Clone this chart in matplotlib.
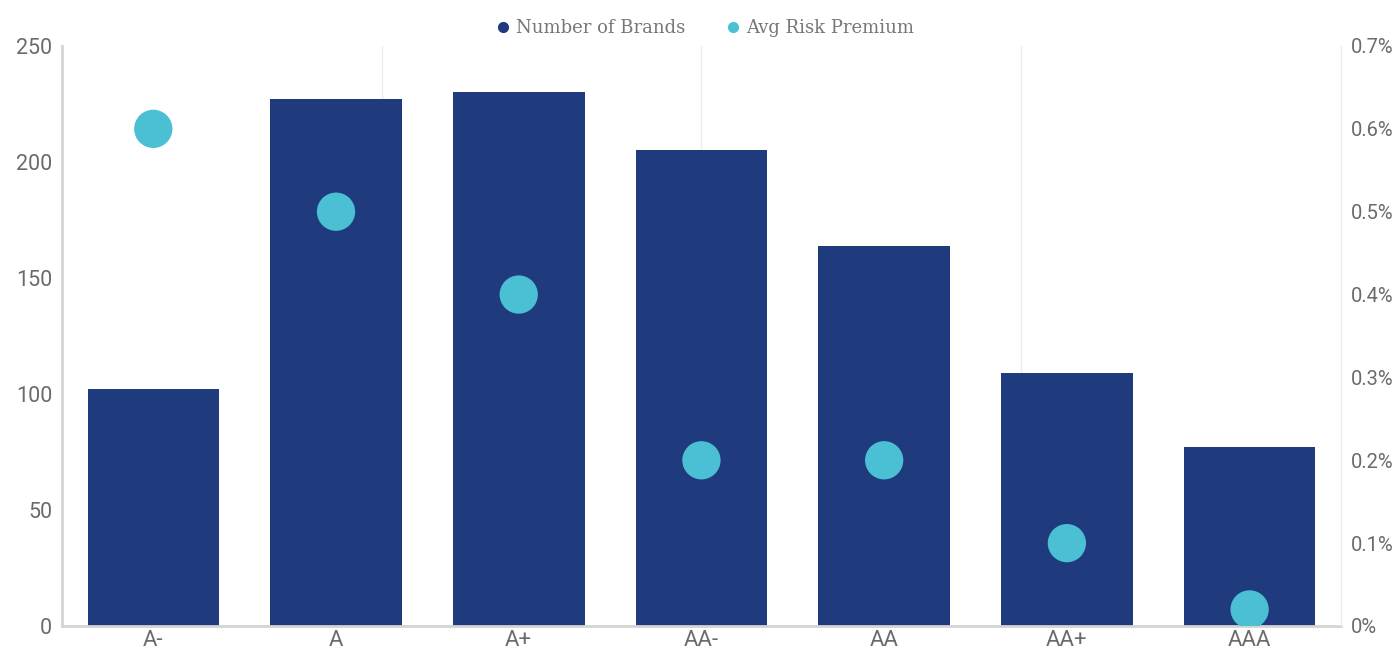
import matplotlib
matplotlib.use("Agg")
import matplotlib.pyplot as plt
from matplotlib.lines import Line2D

ratings = ["A-", "A", "A+", "AA-", "AA", "AA+", "AAA"]
brands = [102, 227, 230, 205, 164, 109, 77]
risk_premium = [0.6, 0.5, 0.4, 0.2, 0.2, 0.1, 0.02]

navy = "#1f3a7d"
cyan = "#4bbfd3"
grey_txt = "#6b6b6b"

plt.rcParams["font.family"] = ["Roboto", "DejaVu Sans"]

fig = plt.figure(figsize=(13.98, 6.57), dpi=100)
ax = fig.add_axes([0.0443, 0.0472, 0.9149, 0.8828])
ax2 = ax.twinx()

x = list(range(len(ratings)))
ax.bar(x, brands, width=0.72, color=navy, zorder=2)
ax.set_xlim(-0.5, 6.5)
ax.set_ylim(0, 250)
ax.set_yticks([0, 50, 100, 150, 200, 250])
ax.set_xticks(x)
ax.set_xticklabels(ratings)

# faint vertical grid at quarters of the plot width
for gx in [1.25, 3.0, 4.75]:
    ax.axvline(gx, color="#ececec", lw=1, zorder=0)

ax2.scatter(x, risk_premium, s=760, color=cyan, zorder=3, edgecolors="none")
ax2.set_ylim(0, 0.7)
ax2.set_yticks([0, 0.1, 0.2, 0.3, 0.4, 0.5, 0.6, 0.7])
ax2.set_yticklabels(["0%", "0.1%", "0.2%", "0.3%", "0.4%", "0.5%", "0.6%", "0.7%"])

for a in (ax, ax2):
    a.tick_params(length=0, colors=grey_txt)
    a.spines["top"].set_visible(False)
ax.tick_params(axis="x", pad=3, labelsize=16)
ax.tick_params(axis="y", pad=7, labelsize=15.5)
ax2.tick_params(axis="y", pad=7, labelsize=14.5)

ax.spines["left"].set_color("#d4d4d4")
ax.spines["left"].set_linewidth(2)
ax.spines["bottom"].set_color("#d4d4d4")
ax.spines["bottom"].set_linewidth(2)
ax.spines["right"].set_visible(False)
ax2.spines["left"].set_visible(False)
ax2.spines["bottom"].set_visible(False)
ax2.spines["right"].set_color("#ececec")
ax2.spines["right"].set_linewidth(1)

handles = [
    Line2D([], [], marker="o", ls="none", color=navy, markersize=7, label="Number of Brands"),
    Line2D([], [], marker="o", ls="none", color=cyan, markersize=7, label="Avg Risk Premium"),
]
fig.legend(handles=handles, loc="center", bbox_to_anchor=(0.504, 0.957), ncol=2,
           frameon=False, handlelength=0.8, handletextpad=0.32, columnspacing=2.25,
           prop={"family": "DejaVu Serif", "size": 13}, labelcolor="#777777")

fig.savefig("out.png", dpi=100)
